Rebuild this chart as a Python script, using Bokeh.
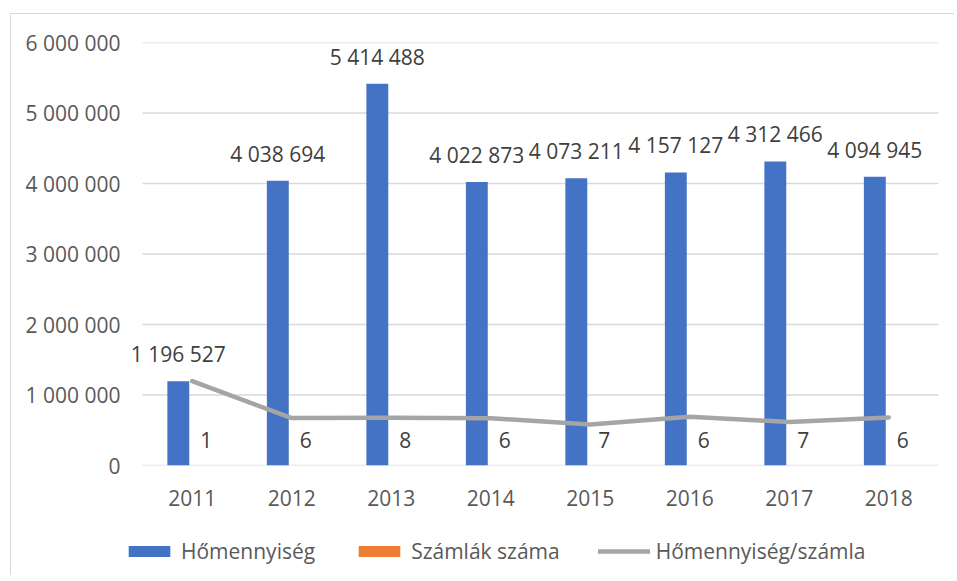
from bokeh.plotting import figure
from bokeh.layouts import column
from bokeh.models import (ColumnDataSource, Range1d, FixedTicker,
                          Legend, LegendItem, LabelSet)
from bokeh.transform import dodge
from bokeh.embed import file_html
from bokeh.resources import INLINE
from bokeh.core.properties import value

# ---- data ----
years = ["2011", "2012", "2013", "2014", "2015", "2016", "2017", "2018"]
homennyiseg = [1196527, 4038694, 5414488, 4022873, 4073211, 4157127, 4312466, 4094945]
szamlak_szama = [1, 6, 8, 6, 7, 6, 7, 6]
hom_per_szamla = [1196527, 673116, 676811, 670479, 581887, 692855, 616067, 682491]
y_ticks = [0, 1000000, 2000000, 3000000, 4000000, 5000000, 6000000]

def fmt(v):
    return f"{v:,}".replace(",", " ")

xs = list(range(len(years)))  # category positions

src = ColumnDataSource(dict(
    x=xs,
    hom=homennyiseg,
    szam=szamlak_szama,
    ratio=hom_per_szamla,
    hom_lbl=[fmt(v) for v in homennyiseg],
    szam_lbl=[fmt(v) for v in szamlak_szama],
))

FONT = "Open Sans"
FS = "21px"
W = 943

blue = "#4472c4"
orange = "#ed7d31"
gray = "#a5a5a5"
grid_c = "#d9d9d9"

p = figure(x_range=Range1d(-0.6910, len(years) - 0.5),
           y_range=Range1d(0, 6000000),
           width=W, height=501, output_backend="svg", toolbar_location=None,
           min_border_left=112, min_border_right=16, min_border_top=28,
           min_border_bottom=50)
p.outline_line_color = None
p.background_fill_color = "white"
p.border_fill_color = "white"
p.xgrid.grid_line_color = None
p.ygrid.grid_line_color = None

# horizontal gridlines spanning the category area only
p.segment(x0=[xs[0] - 0.5] * len(y_ticks), x1=[xs[-1] + 0.5] * len(y_ticks),
          y0=y_ticks, y1=y_ticks, line_color=grid_c, line_width=1.5)

r1 = p.vbar(x=dodge("x", -0.14), top="hom", width=0.22, source=src,
            fill_color=blue, line_color=None)
r2 = p.vbar(x=dodge("x", 0.14), top="szam", width=0.22, source=src,
            fill_color=orange, line_color=None)
r3 = p.line(x="x", y="ratio", source=src, line_color=gray, line_width=4.5,
            line_cap="round", line_join="round")

lab1 = LabelSet(x=dodge("x", -0.14), y="hom", text="hom_lbl",
                source=src, text_align="center", text_baseline="alphabetic",
                y_offset=19, text_font=value(FONT), text_font_size=FS,
                text_color="#404040")
lab2 = LabelSet(x=dodge("x", 0.14), y="szam", text="szam_lbl",
                source=src, text_align="center", text_baseline="alphabetic",
                y_offset=17, text_font=value(FONT), text_font_size=FS,
                text_color="#404040")
p.add_layout(lab1)
p.add_layout(lab2)

# axes
p.yaxis.ticker = FixedTicker(ticks=y_ticks)
p.yaxis.major_label_overrides = {t: fmt(t) for t in y_ticks}
p.yaxis.axis_line_color = None
p.yaxis.major_tick_line_color = None
p.yaxis.minor_tick_line_color = None
p.yaxis.major_label_standoff = -3
p.yaxis.major_label_text_font = FONT
p.yaxis.major_label_text_font_size = FS
p.yaxis.major_label_text_color = "#595959"

p.xaxis.ticker = FixedTicker(ticks=xs)
p.xaxis.major_label_overrides = {i: y for i, y in zip(xs, years)}
p.xaxis.axis_line_color = None
p.xaxis.major_tick_line_color = None
p.xaxis.minor_tick_line_color = None
p.xaxis.major_label_standoff = 18
p.xaxis.major_label_text_font = FONT
p.xaxis.major_label_text_font_size = FS
p.xaxis.major_label_text_color = "#595959"

# ---- legend strip ----
lg = figure(width=W, height=60, output_backend="svg", toolbar_location=None,
            x_range=Range1d(0, 1), y_range=Range1d(0, 1),
            x_axis_type=None, y_axis_type=None,
            min_border_left=0, min_border_right=0, min_border_top=0,
            min_border_bottom=0)
lg.outline_line_color = None
lg.xgrid.grid_line_color = None
lg.ygrid.grid_line_color = None
lg.background_fill_color = "white"
lg.border_fill_color = "white"
d1 = lg.vbar(x="x", top="hom", width=0.22, source=src, fill_color=blue,
             line_color=None, visible=False)
d2 = lg.vbar(x="x", top="szam", width=0.22, source=src, fill_color=orange,
             line_color=None, visible=False)
d3 = lg.line(x="x", y="ratio", source=src, line_color=gray, line_width=4.5,
             line_cap="round", visible=False)

legend = Legend(items=[
    LegendItem(label="Hőmennyiség", renderers=[d1]),
    LegendItem(label="Számlák száma", renderers=[d2]),
    LegendItem(label="Hőmennyiség/számla", renderers=[d3]),
], orientation="horizontal", location=(0, 10), click_policy="none")
legend.glyph_width = 52
legend.glyph_height = 14
legend.label_standoff = 6
legend.spacing = 38
legend.padding = 0
legend.margin = 0
legend.border_line_color = None
legend.background_fill_alpha = 0
legend.label_text_font = FONT
legend.label_text_font_size = FS
legend.label_text_color = "#595959"
lg.add_layout(legend, "center")

layout = column(p, lg, spacing=0)
layout.margin = (13, 0, 0, 10)
layout.styles = {"border-left": "1.5px solid #d9d9d9", "border-top": "1.5px solid #d9d9d9"}

open("out.html", "w").write(file_html(layout, INLINE))
